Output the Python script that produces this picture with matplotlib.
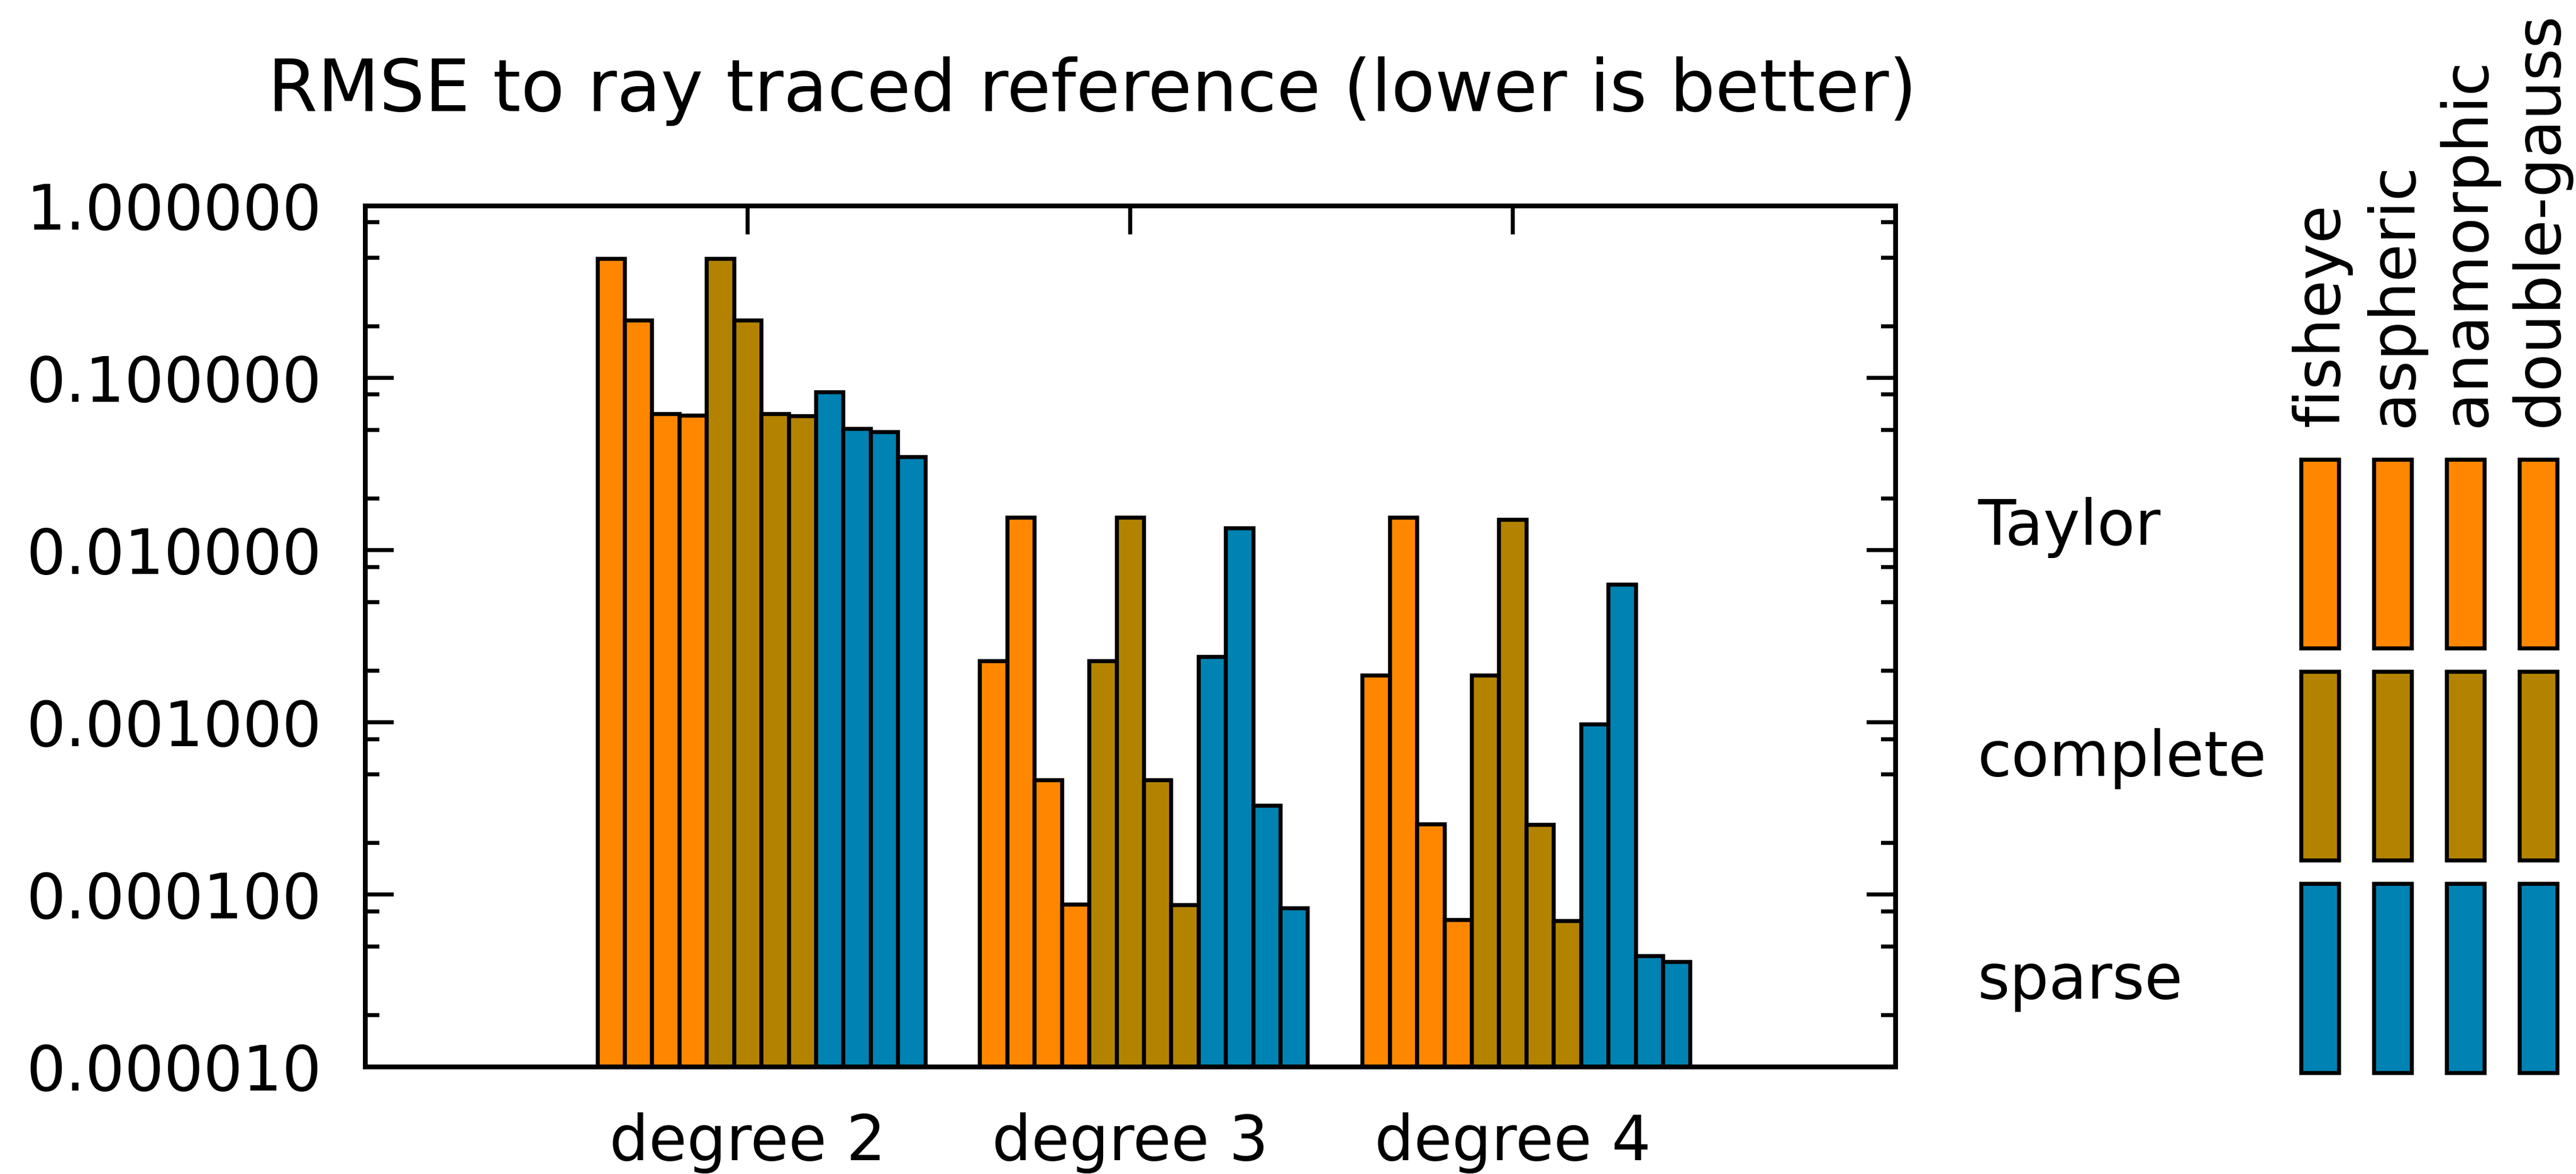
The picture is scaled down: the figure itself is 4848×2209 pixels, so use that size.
import matplotlib
matplotlib.use('Agg')
import matplotlib.pyplot as plt
from matplotlib.ticker import LogLocator, NullFormatter, FormatStrFormatter

# data
degrees = ['degree 2', 'degree 3', 'degree 4']
lenses = ['fisheye', 'aspheric', 'anamorphic', 'double-gauss']
families = ['Taylor', 'complete', 'sparse']
colors = ['#FF8700', '#B38300', '#0083B3']

# values per degree, 4 lenses each
taylor = [[0.49, 0.216, 0.0618, 0.0603],
          [0.00227, 0.0154, 0.000463, 8.75e-5],
          [0.00187, 0.0154, 0.000255, 7.10e-5]]
complete = [[0.49, 0.216, 0.0615, 0.0600],
            [0.00227, 0.0154, 0.000463, 8.66e-5],
            [0.00187, 0.0150, 0.000254, 7.03e-5]]
sparse = [[0.0826, 0.0506, 0.0485, 0.0346],
          [0.00240, 0.0134, 0.000327, 8.30e-5],
          [0.000976, 0.0063, 4.40e-5, 4.07e-5]]
series = [taylor, complete, sparse]

FS = 84
LW = 5.4

fig = plt.figure(figsize=(48.48, 22.09), dpi=100)
ax = fig.add_axes([0.14181, 0.09132, 0.59396, 0.73348])

bw = 1 / 14
for g in range(len(degrees)):
    for f, fam in enumerate(series):
        for k in range(len(lenses)):
            j = f * 4 + k
            ax.bar(g + (j - 5) * bw, fam[g][k], width=bw, log=True,
                   color=colors[f], edgecolor='black', linewidth=LW)

ax.set_yscale('log')
ax.set_ylim(1e-5, 1)
ax.set_xlim(-1, 3)
ax.set_axisbelow(True)

ax.set_xticks(range(len(degrees)))
ax.set_xticklabels(degrees, fontsize=FS)
ax.yaxis.set_major_locator(LogLocator(base=10, numticks=10))
ax.yaxis.set_minor_locator(LogLocator(base=10, subs=(2, 5, 8), numticks=20))
ax.yaxis.set_major_formatter(FormatStrFormatter('%.6f'))
ax.yaxis.set_minor_formatter(NullFormatter())
ax.tick_params(axis='y', which='major', direction='in', left=True, right=True,
               length=39, width=5.4, labelsize=FS, pad=59)
ax.tick_params(axis='y', which='minor', direction='in', left=True, right=True,
               length=19.5, width=5.4)
ax.tick_params(axis='x', which='major', direction='in', top=True, bottom=True,
               length=39, width=5.4, pad=62)
ax.tick_params(axis='x', which='minor', top=False, bottom=False)
for s in ax.spines.values():
    s.set_linewidth(6.5)

fig.text(0.4241, 1 - 209 / 2209, 'RMSE to ray traced reference (lower is better)',
         fontsize=97, ha='center', va='baseline')

# key: grid of coloured boxes
lg = fig.add_axes([0.88645, 0.07617, 0.11308, 0.54233])
lg.set_xlim(-0.5, 3.5)
lg.set_ylim(2.5, -0.5)
lg.axis('off')
for r in range(len(families)):
    lg.bar(range(len(lenses)), [0.89] * len(lenses), bottom=r - 0.445, width=0.518,
           color=colors[r], edgecolor='black', linewidth=LW)
for c, name in enumerate(lenses):
    lg.text(c + 0.259, -0.6, name, fontsize=FS, rotation=90,
            rotation_mode='anchor', ha='left', va='baseline')
row_y = [-0.044, 1.045, 2.095]
for r, name in enumerate(families):
    lg.text(-4.70, row_y[r], name, fontsize=FS, ha='left', va='baseline')

fig.savefig('out.png', dpi=100)
